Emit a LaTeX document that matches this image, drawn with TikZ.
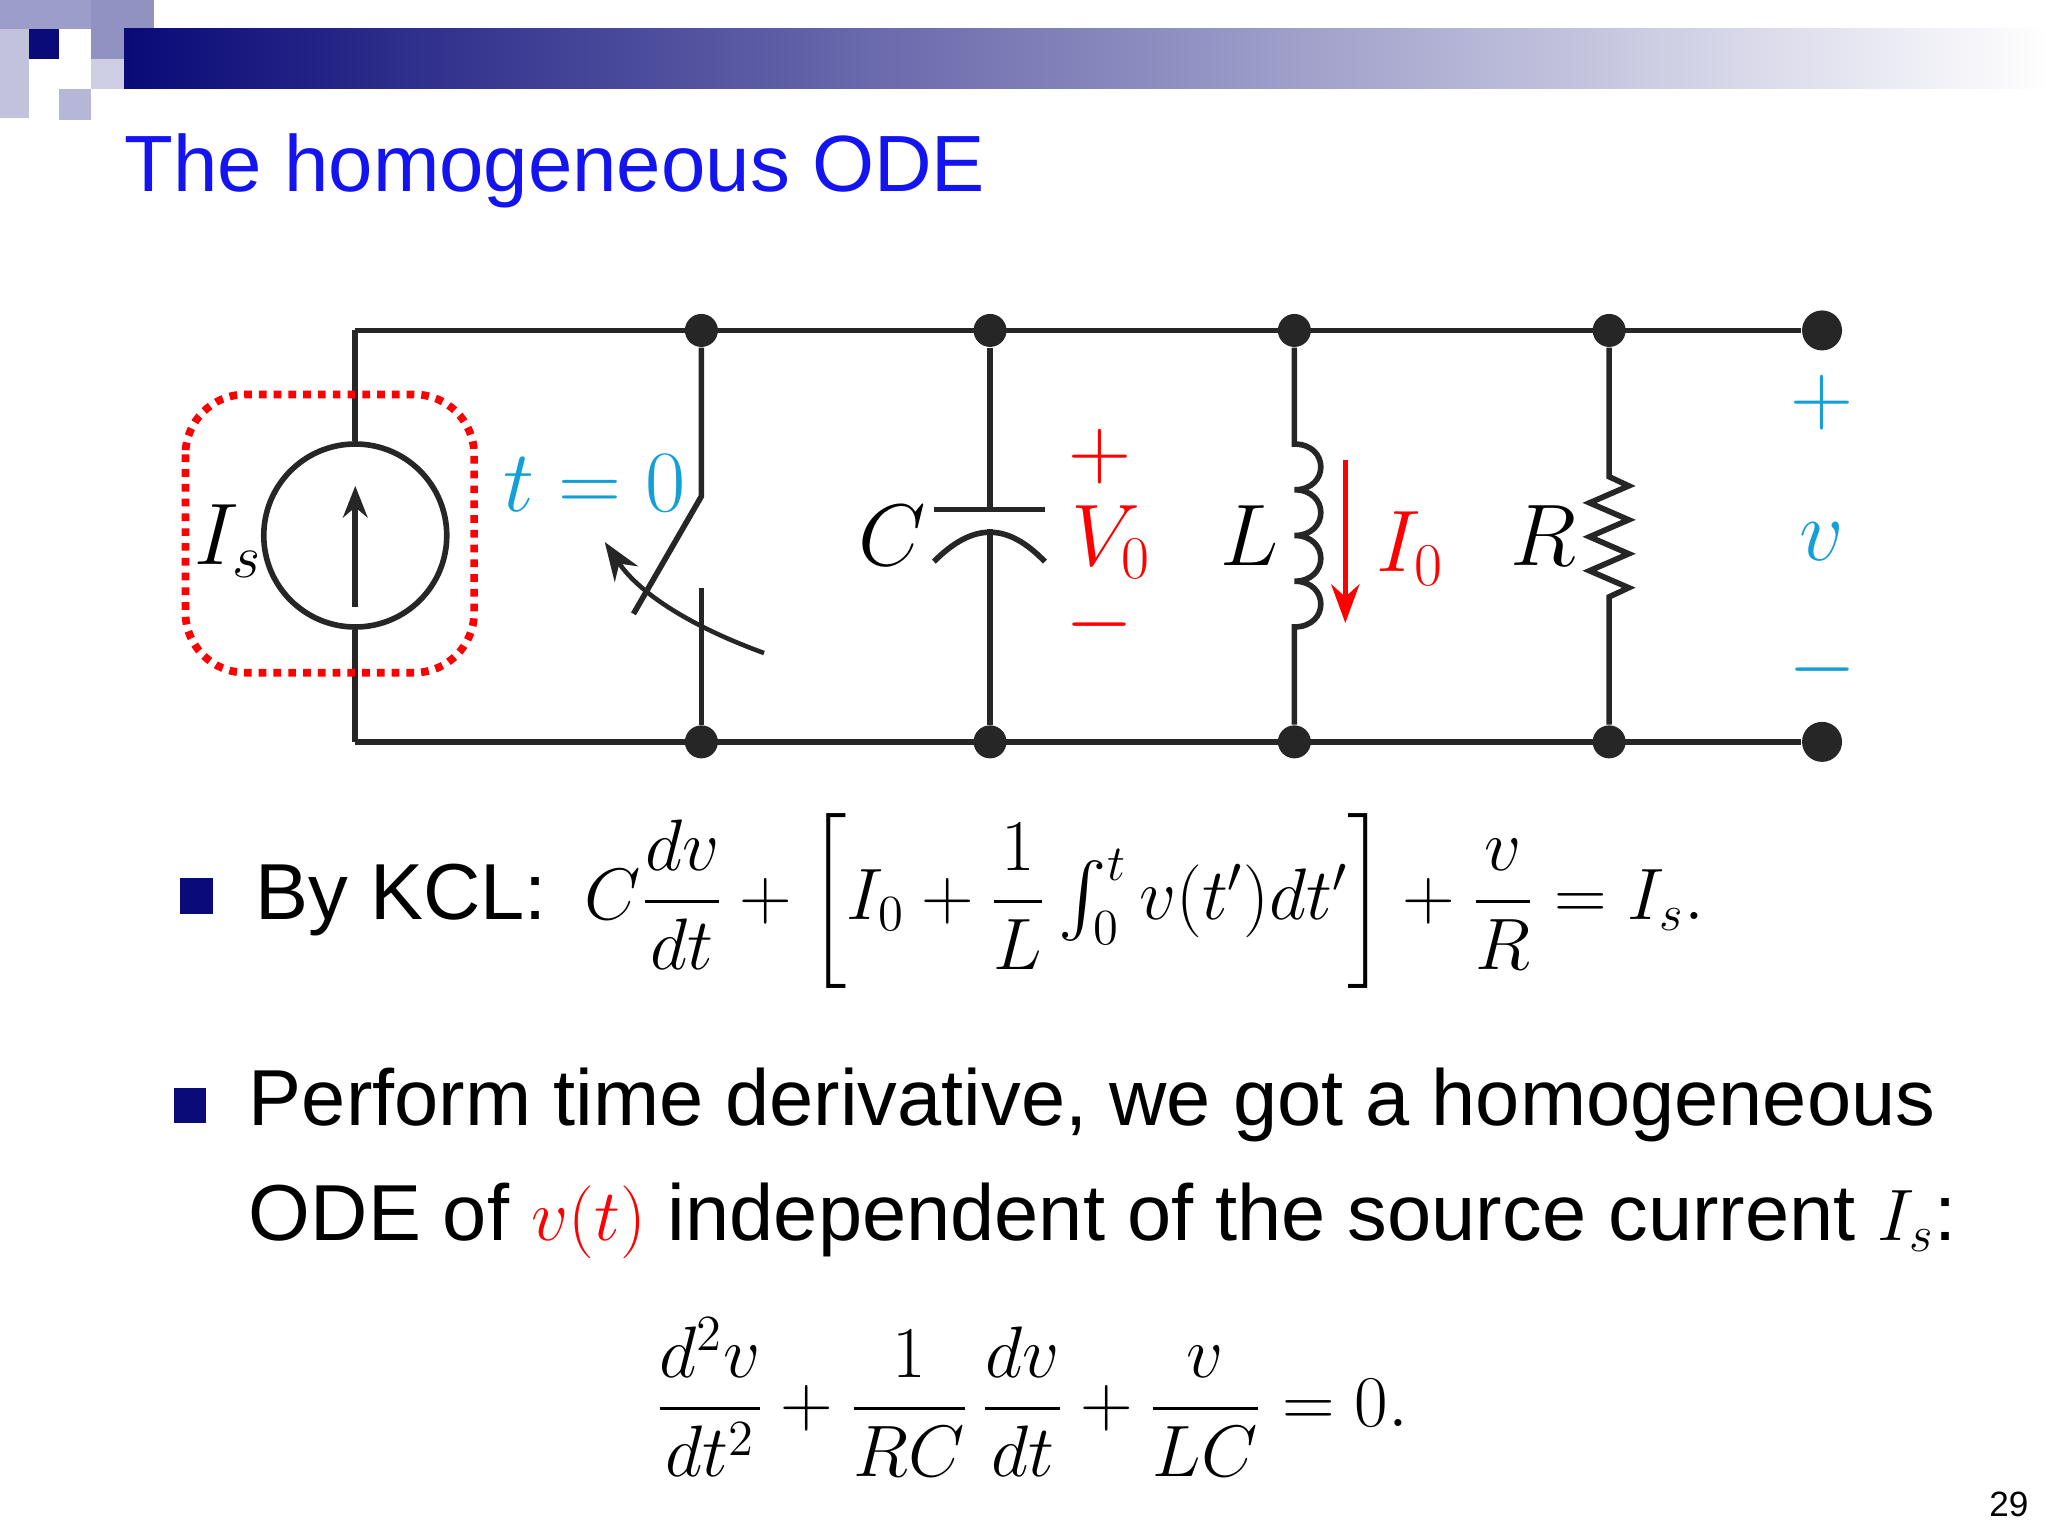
\documentclass[tikz,border=0pt]{standalone}
\usepackage{fontspec}
\setmainfont{Liberation Sans}
\usepackage{amsmath}
\usetikzlibrary{arrows.meta,shadings}
\definecolor{navy}{RGB}{10,10,120}
\definecolor{cy}{RGB}{20,160,215}
\definecolor{ttl}{RGB}{20,20,240}
\begin{document}
\begin{tikzpicture}[x=0.01306cm,y=-0.01306cm,
  wire/.style={line width=1.6pt,black!85},
  dot/.style={circle,fill=black!85,inner sep=0pt,minimum size=0.33cm},
  bigdot/.style={circle,fill=black!85,inner sep=0pt,minimum size=0.4cm}]
\useasboundingbox (0,0) rectangle (1568,1176);
% header
\fill[navy!40] (0,0) rectangle (95,22);
\fill[navy!25] (0,22) rectangle (22,90);
\fill[navy!30] (45,68) rectangle (70,92);
\fill[navy!20] (70,45) rectangle (95,68);
\fill[navy!45] (70,0) rectangle (118,45);
\fill[navy] (22,22) rectangle (45,45);
\shade[left color=navy,right color=white] (95,22) rectangle (1568,68);
\node[anchor=base west,text=ttl,font=\fontsize{22.7}{26}\selectfont,inner sep=0] (title) at (95,147) {The homogeneous ODE};
% circuit
\foreach \x/\n in {537/a,758/b,991/c,1232/d}{
 \node[dot] (t\n) at (\x,253) {}; \node[dot] (b\n) at (\x,568) {};}
\node[bigdot] (te) at (1395,253) {};
\node[bigdot] (be) at (1395,568) {};
\coordinate (ts) at (272,253); \coordinate (bs) at (272,568);
\draw[wire] (ts) -- (te); \draw[wire] (bs) -- (be);
\node[circle,draw=black!85,line width=1.6pt,minimum size=1.83cm] (src) at (272,410) {};
\draw[wire] (ts) -- (src.north); \draw[wire] (src.south) -- (bs);
\draw[wire,-{Stealth[length=9pt,width=7pt]}] (272,465) -- (272,372);
\node[font=\fontsize{26}{30}\selectfont,inner sep=0] (is) at (175,414) {$I_s$};
\draw[red,line width=2.2pt,dotted,rounded corners=0.6cm] (142,302) rectangle (363,515);
% switch
\draw[wire] (ta) -- (537,380) -- (485,470);
\draw[wire] (537,450) -- (ba);
\draw[line width=1.3pt,black!85,-{Stealth[length=11pt,width=8pt]}] (585,500) .. controls (530,480) and (490,455) .. (463,415);
\node[text=cy,font=\fontsize{26}{30}\selectfont,inner sep=0] (sw) at (455,370) {$t=0$};
% capacitor
\draw[wire] (tb) -- (758,390); \draw[wire] (715,390) -- (800,390);
\draw[wire] (715,430) .. controls (745,400) and (771,400) .. (800,430);
\draw[wire] (758,405) -- (bb);
\node[font=\fontsize{26}{30}\selectfont,inner sep=0] (cl) at (683,410) {$C$};
\node[text=red,font=\fontsize{26}{30}\selectfont,inner sep=0] (vp) at (842,350) {$+$};
\node[text=red,font=\fontsize{26}{30}\selectfont,inner sep=0] (v0) at (851,415) {$V_0$};
\node[text=red,font=\fontsize{26}{30}\selectfont,inner sep=0] (vm) at (842,478) {$-$};
% inductor
\draw[wire] (tc) -- (991,340)
  .. controls (1018,340) and (1018,375) .. (991,375)
  .. controls (1018,375) and (1018,410) .. (991,410)
  .. controls (1018,410) and (1018,445) .. (991,445)
  .. controls (1018,445) and (1018,480) .. (991,480) -- (bc);
\draw[red,line width=1.6pt,-{Stealth[length=11pt,width=8pt]}] (1030,352) -- (1030,477);
\node[font=\fontsize{26}{30}\selectfont,inner sep=0] (ll) at (957,410) {$L$};
\node[text=red,font=\fontsize{26}{30}\selectfont,inner sep=0] (i0) at (1080,420) {$I_0$};
% resistor
\draw[wire] (td) -- (1232,365) -- (1247,372) -- (1217,385) -- (1247,398) -- (1217,411) -- (1247,424) -- (1217,437) -- (1247,450) -- (1232,457) -- (bd);
\node[font=\fontsize{26}{30}\selectfont,inner sep=0] (rl) at (1182,410) {$R$};
\node[text=cy,font=\fontsize{26}{30}\selectfont,inner sep=0] (op) at (1395,308) {$+$};
\node[text=cy,font=\fontsize{26}{30}\selectfont,inner sep=0] (ov) at (1395,415) {$v$};
\node[text=cy,font=\fontsize{26}{30}\selectfont,inner sep=0] (om) at (1395,513) {$-$};
% bullets
\fill[navy] (138,672) rectangle (163,700);
\node[anchor=base west,inner sep=0,font=\fontsize{22.6}{26}\selectfont] (kcl) at (195,704) {By KCL:};
\node[anchor=west,inner sep=0,font=\fontsize{21}{25}\selectfont] (kcleq) at (447,690)
 {$\displaystyle C\frac{dv}{dt}+\left[I_0+\frac{1}{L}\textstyle\int_0^t v(t')dt'\right]+\frac{v}{R}=I_s.$};
\fill[navy] (133,833) rectangle (158,860);
\node[anchor=base west,inner sep=0,font=\fontsize{22.6}{26}\selectfont] (p1) at (190,862) {Perform time derivative, we got a homogeneous};
\node[anchor=base west,inner sep=0,font=\fontsize{22.6}{26}\selectfont] (p2) at (190,950) {ODE of \textcolor{red}{$v(t)$} independent of the source current $I_s$:};
\node[inner sep=0,font=\fontsize{21.5}{25}\selectfont] (ode) at (790,1070)
 {$\displaystyle \frac{d^2v}{dt^2}+\frac{1}{RC}\,\frac{dv}{dt}+\frac{v}{LC}=0.$};
\node[font=\fontsize{10}{12}\selectfont\rmfamily,inner sep=0] (pg) at (1538,1152) {29};
\end{tikzpicture}
\end{document}
